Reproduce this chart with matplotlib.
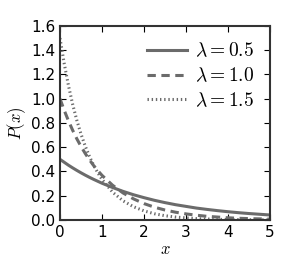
import matplotlib
matplotlib.use('Agg')
import matplotlib.pyplot as plt

# --- Data ---
x = [0, 0.1, 0.2, 0.3, 0.4, 0.5, 0.6, 0.7, 0.8, 0.9, 1.0,
     1.25, 1.5, 1.75, 2.0, 2.25, 2.5, 2.75, 3.0, 3.25, 3.5,
     3.75, 4.0, 4.25, 4.5, 4.75, 5.0]
p_05 = [0.50, 0.476, 0.452, 0.430, 0.409, 0.389, 0.370, 0.352, 0.335, 0.319, 0.303,
        0.268, 0.236, 0.208, 0.184, 0.162, 0.143, 0.126, 0.112, 0.098, 0.087,
        0.077, 0.068, 0.060, 0.053, 0.047, 0.041]
p_10 = [1.00, 0.905, 0.819, 0.741, 0.670, 0.607, 0.549, 0.497, 0.449, 0.407, 0.368,
        0.287, 0.223, 0.174, 0.135, 0.105, 0.082, 0.064, 0.050, 0.039, 0.030,
        0.024, 0.018, 0.014, 0.011, 0.009, 0.007]
p_15 = [1.50, 1.291, 1.111, 0.956, 0.823, 0.709, 0.610, 0.525, 0.452, 0.389, 0.335,
        0.230, 0.158, 0.109, 0.075, 0.051, 0.035, 0.024, 0.017, 0.011, 0.008,
        0.005, 0.004, 0.003, 0.002, 0.001, 0.001]
labels = [r'$\lambda=0.5$', r'$\lambda=1.0$', r'$\lambda=1.5$']
dash_styles = [(None, None), (0, (6, 4)), (0, (1, 2))]

plt.rcParams['mathtext.fontset'] = 'cm'
plt.rcParams['font.size'] = 11
plt.rcParams['lines.scale_dashes'] = False

fig = plt.figure(figsize=(3.0, 2.6), dpi=100)
ax = fig.add_axes([0.2, 0.154, 0.7, 0.746])

for p, ds, lab in zip([p_05, p_10, p_15], dash_styles, labels):
    line, = ax.plot(x, p, color='#6b6b6b', lw=2.2, label=lab)
    if ds[0] is not None:
        line.set_linestyle(ds)

ax.set_xlim(0, 5)
ax.set_ylim(0, 1.6)
ax.set_xticks([0, 1, 2, 3, 4, 5])
ax.set_yticks([0, 0.2, 0.4, 0.6, 0.8, 1.0, 1.2, 1.4, 1.6])
ax.tick_params(direction='in', top=True, right=True, length=4, labelsize=11)
ax.set_xlabel(r'$x$', fontsize=12, labelpad=0)
ax.set_ylabel(r'$P(x)$', fontsize=12, labelpad=2)
for s in ax.spines.values():
    s.set_linewidth(1.5)
    s.set_color('#333333')

ax.legend(loc='upper right', frameon=False, fontsize=14, handlelength=2.1,
          handletextpad=0.4, labelspacing=0.3, borderaxespad=0.4)

fig.savefig('out.png', dpi=100)
